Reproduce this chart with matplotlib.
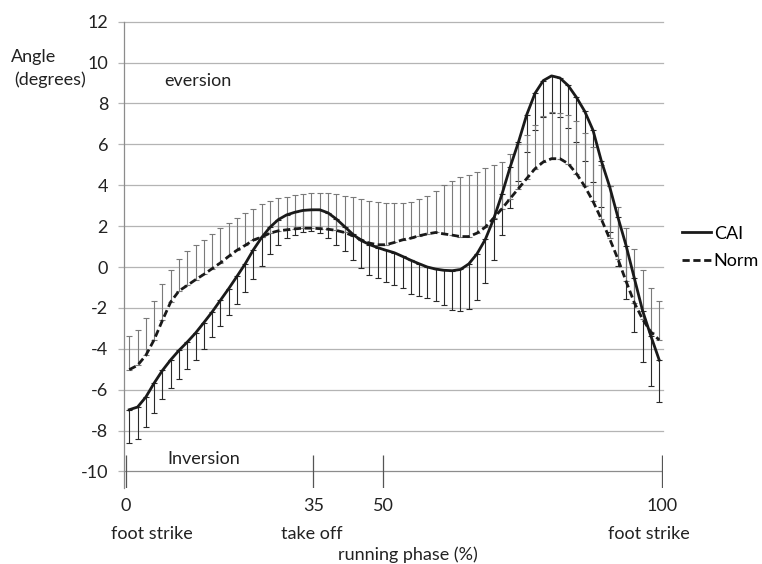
import matplotlib
matplotlib.use('Agg')
import matplotlib.pyplot as plt
import numpy as np

plt.rcParams['font.family'] = ['Lato', 'DejaVu Sans']

# ===== data =====
phase = [0.69, 2.23, 3.78, 5.32, 6.87, 8.41, 9.95, 11.50, 13.04, 14.59,
         16.13, 17.67, 19.22, 20.76, 22.31, 23.85, 25.39, 26.94, 28.48, 30.03,
         31.57, 33.11, 34.66, 36.20, 37.75, 39.29, 40.83, 42.38, 43.92, 45.47,
         47.01, 48.55, 50.10, 51.64, 53.19, 54.73, 56.27, 57.82, 59.36, 60.91,
         62.45, 63.99, 65.54, 67.08, 68.63, 70.17, 71.71, 73.26, 74.80, 76.35,
         77.89, 79.43, 80.98, 82.52, 84.07, 85.61, 87.15, 88.70, 90.24, 91.79,
         93.33, 94.87, 96.42, 97.96, 99.51]

cai_mean = [-6.98, -6.85, -6.36, -5.68, -5.06, -4.54, -4.08, -3.67, -3.23, -2.72,
            -2.20, -1.63, -1.06, -0.46, 0.16, 0.85, 1.45, 1.95, 2.32, 2.55,
            2.68, 2.77, 2.80, 2.80, 2.65, 2.35, 1.98, 1.60, 1.30, 1.10,
            0.95, 0.82, 0.70, 0.52, 0.33, 0.16, 0.00, -0.10, -0.16, -0.18,
            -0.12, 0.15, 0.65, 1.35, 2.35, 3.55, 4.89, 6.11, 7.45, 8.50,
            9.12, 9.35, 9.25, 8.88, 8.30, 7.62, 6.70, 5.20, 3.95, 2.45,
            1.05, -0.55, -2.15, -3.38, -4.55]

# lower end of the CAI error bars
cai_low = [-8.61, -8.40, -7.83, -7.13, -6.48, -5.92, -5.47, -5.01, -4.54, -4.03,
           -3.44, -2.90, -2.33, -1.79, -1.24, -0.60, 0.03, 0.65, 1.09, 1.41,
           1.57, 1.69, 1.74, 1.66, 1.41, 1.09, 0.76, 0.36, -0.05, -0.37,
           -0.54, -0.72, -0.86, -1.02, -1.30, -1.40, -1.51, -1.67, -1.88, -2.08,
           -2.16, -2.05, -1.62, -0.78, 0.32, 1.57, 2.87, 4.21, 5.62, 6.71,
           7.36, 7.55, 7.36, 6.79, 6.11, 5.19, 4.14, 2.93, 1.69, 0.03,
           -1.54, -3.18, -4.64, -5.84, -6.62]

norm_mean = [-5.02, -4.81, -4.32, -3.56, -2.61, -1.71, -1.17, -0.90, -0.62, -0.36,
             -0.08, 0.20, 0.52, 0.82, 1.06, 1.32, 1.47, 1.66, 1.77, 1.82,
             1.87, 1.90, 1.90, 1.88, 1.85, 1.79, 1.69, 1.53, 1.33, 1.17,
             1.09, 1.09, 1.20, 1.33, 1.41, 1.53, 1.62, 1.69, 1.62, 1.56,
             1.49, 1.49, 1.66, 1.95, 2.39, 2.85, 3.35, 3.84, 4.33, 4.81,
             5.14, 5.30, 5.30, 5.06, 4.57, 3.95, 3.22, 2.35, 1.40, 0.40,
             -0.70, -1.75, -2.56, -3.18, -3.57]

# upper end of the Norm error bars
norm_high = [-3.38, -3.07, -2.48, -1.66, -0.85, -0.13, 0.41, 0.78, 1.06, 1.34,
             1.63, 1.91, 2.15, 2.41, 2.64, 2.86, 3.07, 3.23, 3.36, 3.44,
             3.52, 3.57, 3.60, 3.64, 3.64, 3.57, 3.47, 3.41, 3.31, 3.25,
             3.17, 3.15, 3.12, 3.12, 3.20, 3.33, 3.49, 3.73, 4.01, 4.22,
             4.38, 4.50, 4.66, 4.86, 4.99, 5.15, 5.54, 6.03, 6.48, 6.97,
             7.41, 7.57, 7.54, 7.44, 7.12, 6.56, 5.87, 4.98, 3.95, 2.95,
             1.93, 0.88, -0.16, -1.02, -1.67]

y_ticks = [-10, -8, -6, -4, -2, 0, 2, 4, 6, 8, 10, 12]
phase_ticks = [0, 35, 48, 100]
phase_tick_labels = ['0', '35', '50', '100']
event_labels = ['foot strike', 'take off', 'foot strike']
event_pos = [4.9, 34.8, 97.6]

FS = 13
TXT = '#222222'

# ===== plot =====
fig = plt.figure(figsize=(7.62, 5.64), dpi=100)
ax = fig.add_axes([0.1627, 0.1351, 0.708, 0.8264])

cai_mean = np.array(cai_mean)
norm_mean = np.array(norm_mean)
cai_err = cai_mean - np.array(cai_low)
norm_err = np.array(norm_high) - norm_mean

ax.errorbar(phase, cai_mean, yerr=[cai_err, np.zeros_like(cai_err)], fmt='none',
            ecolor='#2a2a2a', elinewidth=0.8, capsize=2.4, capthick=0.8, zorder=2)
ax.errorbar(phase, norm_mean, yerr=[np.zeros_like(norm_err), norm_err], fmt='none',
            ecolor='#7a7a7a', elinewidth=0.8, capsize=2.4, capthick=0.8, zorder=2)

l_cai, = ax.plot(phase, cai_mean, color='#1a1a1a', lw=2.0, label='CAI', zorder=3)
l_norm, = ax.plot(phase, norm_mean, color='#1a1a1a', lw=2.0, ls=(0, (2.6, 1.3)),
                  label='Norm', zorder=3)

ax.set_xlim(-0.3, 100.3)
ax.set_ylim(-10.8, 12.0)
ax.set_yticks(y_ticks)
ax.set_yticklabels([str(v) for v in y_ticks], fontsize=FS, color=TXT)
ax.set_xticks([])
for v in y_ticks:
    if v == -10:
        ax.axhline(v, color='#8c8c8c', lw=0.9, zorder=1)
    else:
        ax.axhline(v, color='#b4b4b4', lw=0.9, zorder=1, clip_on=False)
ax.tick_params(axis='y', length=4.5, width=0.9, color='#b4b4b4', pad=7)

for s in ['top', 'right', 'bottom']:
    ax.spines[s].set_visible(False)
ax.spines['left'].set_color('#8c8c8c')
ax.spines['left'].set_linewidth(0.9)

# phase ticks on the -10 line
ax.vlines(phase_ticks, -10.8, -9.2, color='#555555', lw=0.9, zorder=1)
for p, lab in zip(phase_ticks, phase_tick_labels):
    ax.text(p, -11.7, lab, ha='center', va='center', fontsize=FS, color=TXT,
            clip_on=False)
for p, lab in zip(event_pos, event_labels):
    ax.text(p, -13.05, lab, ha='center', va='center', fontsize=FS, color=TXT,
            clip_on=False)
ax.text(52.7, -14.05, 'running phase (%)', ha='center', va='center', fontsize=FS,
        color=TXT, clip_on=False)

ax.text(7.3, 9.1, 'eversion', ha='left', va='center', fontsize=FS, color=TXT)
ax.text(7.7, -9.4, 'Inversion', ha='left', va='center', fontsize=FS, color=TXT)

fig.text(11 / 762, 1 - 57 / 564, 'Angle', ha='left', va='center', fontsize=FS,
         color=TXT)
fig.text(14 / 762, 1 - 80 / 564, '(degrees)', ha='left', va='center', fontsize=FS,
         color=TXT)

ax.legend(handles=[l_cai, l_norm], loc='center left', bbox_to_anchor=(1.034, 0.5156),
          frameon=False, borderaxespad=0, borderpad=0, handlelength=1.6,
          handletextpad=0.17, labelspacing=0.66, fontsize=FS)

fig.savefig('out.png', dpi=100)
